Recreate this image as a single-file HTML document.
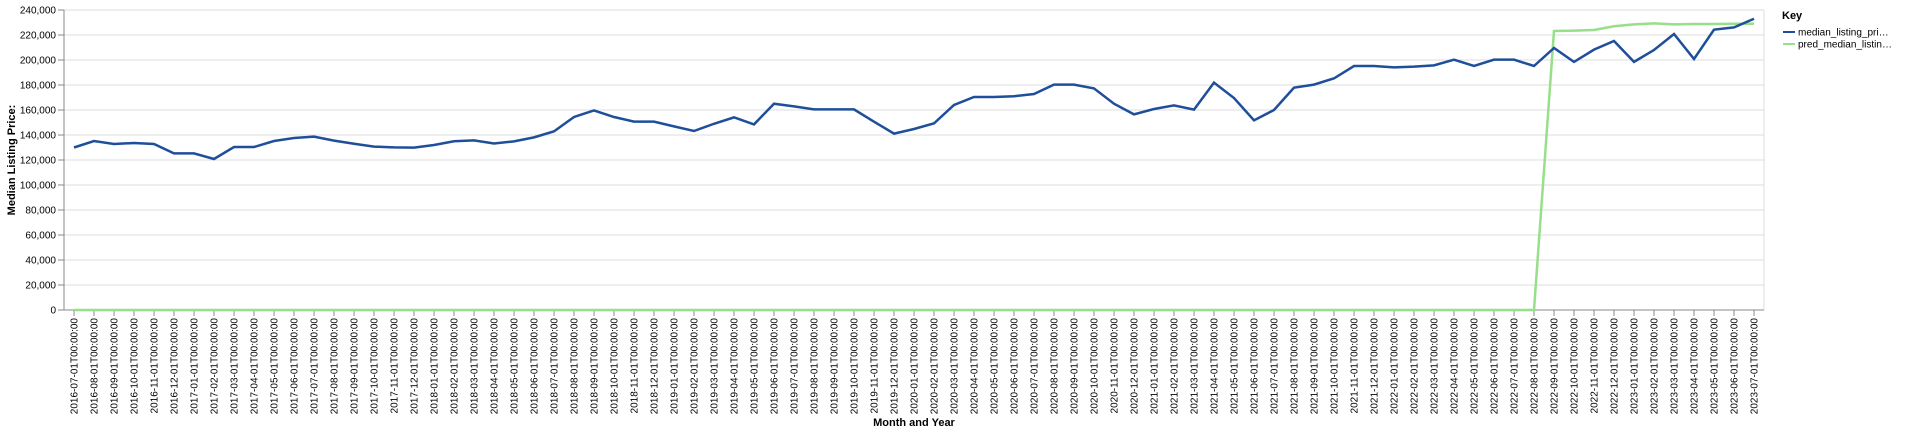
<!DOCTYPE html>
<html><head><meta charset="utf-8"><style>
body{margin:0;background:#fff;}
svg{display:block;font-family:"Liberation Sans",Arial,sans-serif;}
</style></head><body>
<svg id="chart" width="1920" height="434"></svg>
<script>
const months = [];
for (let y = 2016, m = 7; !(y === 2023 && m === 8); ) {
  months.push(y + '-' + String(m).padStart(2, '0') + '-01T00:00:00');
  m++; if (m > 12) { m = 1; y++; }
}
const actualK = [130,135.2,132.8,133.6,132.8,125.3,125.3,120.8,130.4,130.4,135.2,137.6,138.7,135.5,133,130.7,130.1,129.9,132,135,135.7,133.2,134.9,138.1,142.9,154.4,159.7,154.4,150.7,150.7,146.9,143.2,149,154.1,148.5,165,162.9,160.5,160.5,160.5,150.7,141.1,144.8,149.3,164,170.4,170.4,171,172.8,180.3,180.3,177.3,165,156.5,160.8,163.7,160.3,181.9,169.6,151.7,160,177.9,180.3,185.3,195.2,195.2,194.1,194.7,195.7,200.3,195.2,200.3,200.3,195.2,209.6,198.5,208.3,215.2,198.5,208,220.8,200.8,224.3,226.1,233];
const predTailK = [223.2,223.5,224,227,228.5,229.3,228.5,228.8,228.8,229,229];
const yTicks = [0,20000,40000,60000,80000,100000,120000,140000,160000,180000,200000,220000,240000];
const actual = actualK.map(v => v * 1000);
const pred = months.map((m, i) => i < months.length - predTailK.length ? 0 : predTailK[i - (months.length - predTailK.length)] * 1000);

const NS = 'http://www.w3.org/2000/svg';
const svg = document.getElementById('chart');
const L = 64, R = 1764, T = 10, B = 310;
const step = (R - L) / months.length;
const xS = i => L + step * (i + 0.5);
const yS = v => B - (v / 240000) * (B - T);
function mk(tag, attrs, parent) {
  const e = document.createElementNS(NS, tag);
  for (const k in attrs) e.setAttribute(k, attrs[k]);
  (parent || svg).appendChild(e);
  return e;
}
const gGrid = mk('g', {});


yTicks.forEach(t => {
  const y = yS(t);
  const gl = mk('line', {x1: L, x2: R, y1: y, y2: y, stroke: '#ddd', 'stroke-width': 1}, gGrid);
  
  
  const tk = mk('line', {x1: L - 6, x2: L, y1: y, y2: y, stroke: '#888'});
  
  
  const tx = mk('text', {x: L - 8, y: y + 3.5, 'text-anchor': 'end', 'font-size': 10, fill: '#000'});
  tx.textContent = t.toLocaleString('en-US');
  
  
});
mk('line', {x1: R, x2: R, y1: T, y2: B, stroke: '#ddd'});
const yAxis = mk('line', {x1: L, x2: L, y1: T, y2: B, stroke: '#888'});


const xAxis = mk('line', {x1: L, x2: R, y1: B, y2: B, stroke: '#888'});


months.forEach((m, i) => {
  const x = xS(i);
  const tk = mk('line', {x1: x, x2: x, y1: B, y2: B + 6, stroke: '#888'});
  
  
  const tx = mk('text', {x: 0, y: 0, 'text-anchor': 'end', 'font-size': 10, fill: '#000', transform: `translate(${x + 3.5},${B + 8}) rotate(-90)`});
  tx.textContent = m;
  
  
});
function line(vals, color, name) {
  const d = vals.map((v, i) => (i ? 'L' : 'M') + xS(i).toFixed(2) + ',' + yS(v).toFixed(2)).join('');
  const p = mk('path', {d, fill: 'none', stroke: color, 'stroke-width': 2.5});
  
  
}
line(pred, '#98df8a', 'pred-median-listing-price-line');
line(actual, '#1f4e9a', 'median-listing-price-line');
const yt = mk('text', {x: 0, y: 0, 'text-anchor': 'middle', 'font-size': 11, 'font-weight': 'bold', transform: `translate(15,${(T + B) / 2}) rotate(-90)`});
yt.textContent = 'Median Listing Price:';


const xt = mk('text', {x: (L + R) / 2, y: 426, 'text-anchor': 'middle', 'font-size': 11, 'font-weight': 'bold'});
xt.textContent = 'Month and Year';


const lg = mk('g', {});


const kt = mk('text', {x: 1782, y: 19, 'font-size': 11, 'font-weight': 'bold'}, lg);
kt.textContent = 'Key';


[['#1f4e9a', 'median_listing_pri…'], ['#98df8a', 'pred_median_listin…']].forEach((e, k) => {
  const y = 32 + k * 12;
  const sw = mk('line', {x1: 1783, x2: 1795, y1: y, y2: y, stroke: e[0], 'stroke-width': 2}, lg);
  
  
  const t = mk('text', {x: 1798, y: y + 3.5, 'font-size': 10}, lg);
  t.textContent = e[1];
  
  
});
</script>
</body></html>
